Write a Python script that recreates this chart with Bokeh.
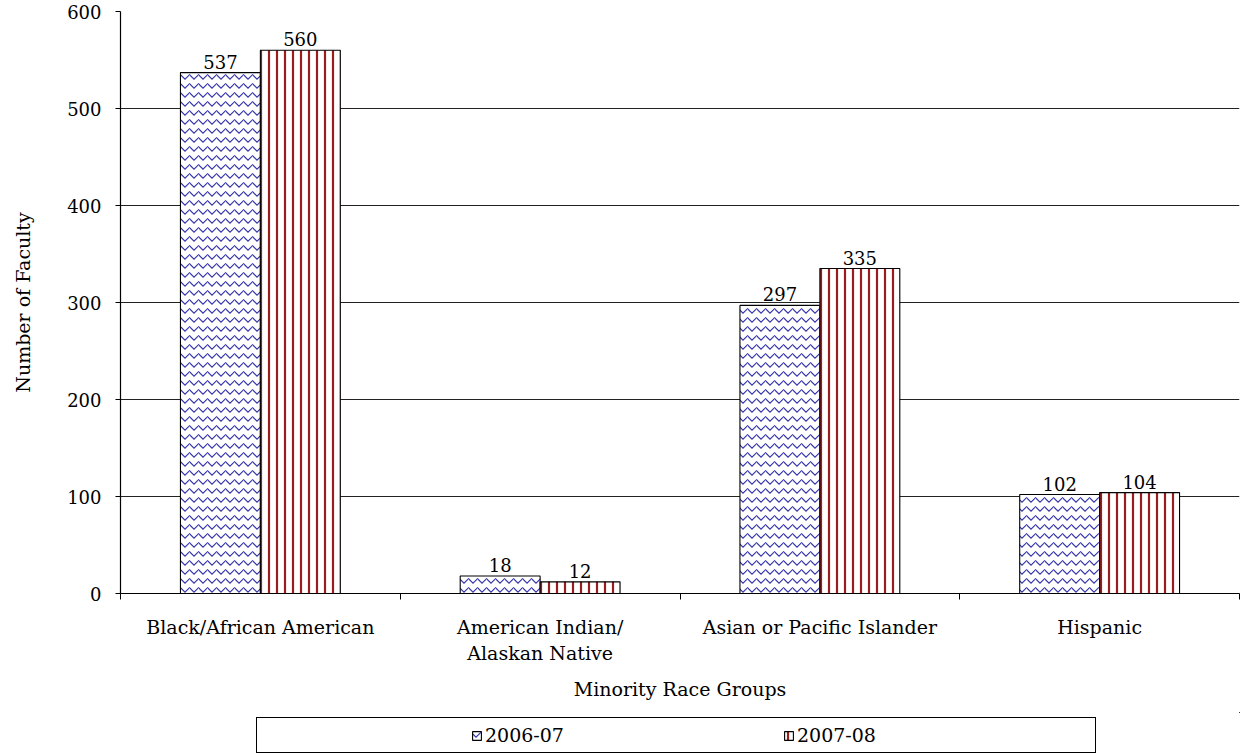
from bokeh.plotting import figure
from bokeh.layouts import column
from bokeh.models import (ColumnDataSource, FixedTicker, Legend, LegendItem,
                          LabelSet, Grid, Range1d)
from bokeh.embed import file_html
from bokeh.resources import INLINE
from bokeh.core.properties import value

# ---- data ----
categories = ["Black/African American", "American Indian/\nAlaskan Native",
              "Asian or Pacific Islander", "Hispanic"]
series_names = ["2006-07", "2007-08"]
values_2006_07 = [537, 18, 297, 102]
values_2007_08 = [560, 12, 335, 104]
y_ticks = [0, 100, 200, 300, 400, 500, 600]
x_title = "Minority Race Groups"
y_title = "Number of Faculty"

FONT = "DejaVu Serif"
FS = "19px"
FS_NUM = "18px"
n = len(categories)
bar_w = 0.2857
idx = list(range(n))

STYLE_1 = dict(fill_color="white", line_color="black", line_width=1.1,
               hatch_pattern="horizontal_wave", hatch_color="#3434aa",
               hatch_scale=9, hatch_weight=1.2)
STYLE_2 = dict(fill_color="white", line_color="black", line_width=1.1,
               hatch_pattern="vertical_line", hatch_color="#9a1c1c",
               hatch_scale=8, hatch_weight=2.2)

src1 = ColumnDataSource(dict(x=[i + 0.5 - bar_w / 2 for i in idx], top=values_2006_07,
                             label=[str(v) for v in values_2006_07]))
src2 = ColumnDataSource(dict(x=[i + 0.5 + bar_w / 2 for i in idx], top=values_2007_08,
                             label=[str(v) for v in values_2007_08]))

W = 1241
p = figure(width=W, height=712, output_backend="svg", toolbar_location=None,
           x_range=Range1d(0, n), y_range=Range1d(0, y_ticks[-1]),
           min_border_left=120, min_border_right=2, min_border_top=11, min_border_bottom=119)
p.outline_line_color = None
p.background_fill_color = "white"

r1 = p.vbar(x="x", top="top", width=bar_w, source=src1, **STYLE_1)
r2 = p.vbar(x="x", top="top", width=bar_w, source=src2, **STYLE_2)

for s in (src1, src2):
    p.add_layout(LabelSet(x="x", y="top", text="label", source=s, y_offset=4,
                          text_align="center", text_baseline="bottom",
                          text_font=value(FONT), text_font_size=FS_NUM, text_color="black"))

# grids
p.xgrid.visible = False
p.ygrid.ticker = FixedTicker(ticks=y_ticks[1:-1])
p.ygrid.grid_line_color = "#222222"
p.ygrid.grid_line_width = 1
top_grid = Grid(dimension=1, ticker=FixedTicker(ticks=[y_ticks[-1]]),
                grid_line_color="#b8b8b8", grid_line_width=2)
p.add_layout(top_grid)

# x axis: labels at group centres, ticks at group boundaries
xa = p.xaxis[0]
xa.ticker = FixedTicker(ticks=[i + 0.5 for i in idx], minor_ticks=list(range(n + 1)))
xa.major_label_overrides = {i + 0.5: c for i, c in zip(idx, categories)}
xa.major_tick_line_color = None
xa.minor_tick_line_color = "black"
xa.minor_tick_out = 6
xa.minor_tick_in = 0
xa.axis_line_color = "black"
xa.axis_line_width = 1.2
xa.major_label_standoff = 16
xa.major_label_text_font = FONT
xa.major_label_text_font_size = FS
xa.major_label_text_color = "black"
xa.axis_label = x_title
xa.axis_label_text_font = FONT
xa.axis_label_text_font_size = FS
xa.axis_label_text_font_style = "normal"
xa.axis_label_text_color = "black"
xa.axis_label_standoff = 11

ya = p.yaxis[0]
ya.ticker = FixedTicker(ticks=y_ticks)
ya.minor_tick_line_color = None
ya.major_tick_out = 5
ya.major_tick_in = 0
ya.major_tick_line_color = "black"
ya.axis_line_color = "black"
ya.axis_line_width = 1.2
ya.major_label_standoff = 14
ya.major_label_text_font = FONT
ya.major_label_text_font_size = FS_NUM
ya.major_label_text_color = "black"
ya.axis_label = y_title
ya.axis_label_text_font = FONT
ya.axis_label_text_font_size = FS
ya.axis_label_text_font_style = "normal"
ya.axis_label_text_color = "black"
ya.axis_label_standoff = 30

# ---- legend strip below the chart ----
# the series renderers are repeated here, far outside the strip's visible
# ranges, only so that the legend can draw their swatches
lg = figure(width=W, height=42, output_backend="svg", toolbar_location=None,
            x_range=Range1d(-1000, -999), y_range=Range1d(-1000, -999),
            min_border_left=120, min_border_right=2, min_border_top=0, min_border_bottom=0)
lg.axis.visible = False
lg.grid.visible = False
lg.outline_line_color = None
k1 = lg.vbar(x="x", top="top", width=bar_w, source=src1, **STYLE_1)
k2 = lg.vbar(x="x", top="top", width=bar_w, source=src2, **STYLE_2)
spacer = lg.vbar(x="x", top="top", width=bar_w, source=src1, fill_alpha=0, line_alpha=0)
blank = [" " * k for k in range(1, 7)]
items = [LegendItem(label=blank[0], renderers=[spacer]), LegendItem(label=blank[1], renderers=[spacer]),
         LegendItem(label=series_names[0], renderers=[k1]),
         LegendItem(label=blank[2], renderers=[spacer]), LegendItem(label=blank[3], renderers=[spacer]),
         LegendItem(label=series_names[1], renderers=[k2]),
         LegendItem(label=blank[4], renderers=[spacer]), LegendItem(label=blank[5], renderers=[spacer])]
legend = Legend(items=items, orientation="horizontal", location=(136, 1),
                border_line_color="black", border_line_width=1.5, border_line_alpha=1,
                padding=6, spacing=6, label_width=84, glyph_width=11, glyph_height=11,
                label_standoff=3, label_text_font=FONT, label_text_font_size=FS,
                label_text_color="black", margin=0, background_fill_color="white",
                background_fill_alpha=1)
lg.add_layout(legend)

layout = column(p, lg, spacing=0)
open("out.html", "w").write(file_html(layout, INLINE))
